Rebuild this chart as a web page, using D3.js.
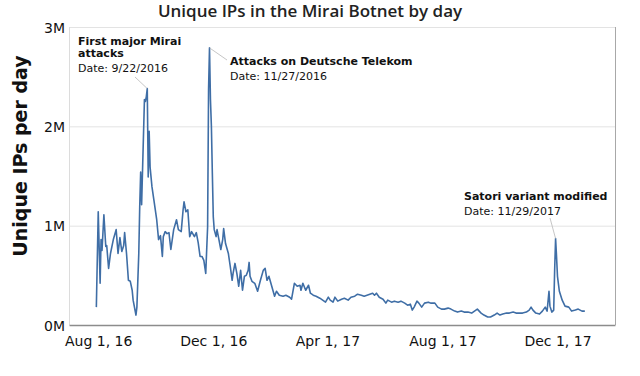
<!DOCTYPE html>
<html>
<head>
<meta charset="utf-8">
<script src="https://cdn.jsdelivr.net/npm/d3@7"></script>
<style>
  body { margin: 0; background: #fff; }
  .tick text { font-family: "DejaVu Sans", sans-serif; font-size: 14px; fill: #111; }
  .note { font-family: "DejaVu Sans", sans-serif; font-size: 11px; fill: #111; }
  .note .b { font-weight: bold; }
</style>
</head>
<body>
<script>
// Daily unique IPs (millions)
var days = [
  "2016-07-30","2016-08-01","2016-08-03","2016-08-04","2016-08-05","2016-08-07","2016-08-09","2016-08-10",
  "2016-08-12","2016-08-14","2016-08-17","2016-08-20","2016-08-22","2016-08-24","2016-08-26","2016-08-28",
  "2016-08-29","2016-08-31","2016-09-02","2016-09-04","2016-09-06","2016-09-07","2016-09-10","2016-09-11",
  "2016-09-13","2016-09-14","2016-09-15","2016-09-16","2016-09-19","2016-09-20","2016-09-21","2016-09-22",
  "2016-09-23","2016-09-24","2016-09-25","2016-09-27","2016-09-29","2016-10-02","2016-10-04","2016-10-06",
  "2016-10-08","2016-10-09","2016-10-11","2016-10-13","2016-10-15","2016-10-17","2016-10-20","2016-10-23",
  "2016-10-25","2016-10-28","2016-10-30","2016-10-31","2016-11-02","2016-11-04","2016-11-06","2016-11-08",
  "2016-11-11","2016-11-13","2016-11-15","2016-11-17","2016-11-19","2016-11-21","2016-11-23","2016-11-25",
  "2016-11-26","2016-11-27","2016-11-28","2016-11-29","2016-11-30","2016-12-01","2016-12-02","2016-12-04",
  "2016-12-05","2016-12-07","2016-12-09","2016-12-11","2016-12-12","2016-12-14","2016-12-17","2016-12-19",
  "2016-12-21","2016-12-22","2016-12-24","2016-12-26","2016-12-28","2016-12-30","2017-01-01","2017-01-03",
  "2017-01-05","2017-01-07","2017-01-08","2017-01-09","2017-01-11","2017-01-14","2017-01-17","2017-01-20",
  "2017-01-23","2017-01-25","2017-01-27","2017-01-29","2017-02-01","2017-02-04","2017-02-06","2017-02-09",
  "2017-02-13","2017-02-16","2017-02-20","2017-02-22","2017-02-25","2017-02-28","2017-03-03","2017-03-04",
  "2017-03-06","2017-03-09","2017-03-12","2017-03-14","2017-03-17","2017-03-20","2017-03-24","2017-03-27",
  "2017-03-30","2017-04-02","2017-04-04","2017-04-07","2017-04-09","2017-04-12","2017-04-16","2017-04-19",
  "2017-04-23","2017-04-26","2017-04-30","2017-05-03","2017-05-07","2017-05-10","2017-05-16","2017-05-19",
  "2017-05-21","2017-05-23","2017-05-26","2017-05-30","2017-06-02","2017-06-04","2017-06-08","2017-06-11",
  "2017-06-15","2017-06-18","2017-06-22","2017-06-25","2017-06-28","2017-06-30","2017-07-02","2017-07-05",
  "2017-07-07","2017-07-10","2017-07-13","2017-07-17","2017-07-20","2017-07-24","2017-07-27","2017-07-31",
  "2017-08-03","2017-08-07","2017-08-10","2017-08-14","2017-08-17","2017-08-21","2017-08-24","2017-08-28",
  "2017-09-01","2017-09-04","2017-09-07","2017-09-11","2017-09-14","2017-09-18","2017-09-21","2017-09-25",
  "2017-09-28","2017-10-01","2017-10-04","2017-10-08","2017-10-11","2017-10-15","2017-10-18","2017-10-22",
  "2017-10-25","2017-10-29","2017-11-01","2017-11-03","2017-11-05","2017-11-08","2017-11-12","2017-11-15",
  "2017-11-18","2017-11-20","2017-11-22","2017-11-23","2017-11-25","2017-11-27","2017-11-28","2017-11-29",
  "2017-11-30","2017-12-01","2017-12-03","2017-12-06","2017-12-09","2017-12-13","2017-12-16","2017-12-20",
  "2017-12-23","2017-12-27","2017-12-30"
];
var ips = [
  0.18,1.14,0.42,0.86,0.75,1.11,0.79,0.80,
  0.57,0.72,0.86,0.96,0.72,0.88,0.74,0.80,
  0.93,0.72,0.45,0.44,0.35,0.25,0.10,0.18,
  0.72,1.19,1.54,1.21,2.27,2.25,2.30,2.38,
  1.49,1.95,1.59,1.39,1.26,1.06,0.86,0.90,
  0.69,0.89,0.94,0.92,0.93,0.76,0.96,1.06,
  0.96,0.94,1.16,1.24,1.14,1.16,0.89,0.94,
  0.89,0.93,0.83,0.69,0.69,0.65,0.52,0.99,
  2.37,2.79,2.27,2.00,1.53,1.09,0.96,0.89,
  0.96,0.86,0.76,0.86,0.97,0.82,0.72,0.59,
  0.45,0.52,0.62,0.52,0.39,0.55,0.35,0.49,
  0.50,0.55,0.63,0.49,0.44,0.42,0.34,0.45,
  0.55,0.57,0.45,0.49,0.39,0.29,0.34,0.30,
  0.29,0.30,0.28,0.26,0.42,0.39,0.40,0.35,
  0.42,0.35,0.40,0.32,0.30,0.29,0.27,0.25,
  0.23,0.28,0.25,0.23,0.28,0.24,0.26,0.27,
  0.25,0.28,0.29,0.31,0.30,0.29,0.31,0.32,
  0.30,0.32,0.28,0.26,0.22,0.25,0.23,0.24,
  0.23,0.24,0.22,0.20,0.21,0.15,0.18,0.24,
  0.22,0.18,0.22,0.23,0.22,0.22,0.18,0.16,
  0.16,0.17,0.16,0.14,0.13,0.14,0.13,0.13,
  0.12,0.14,0.16,0.12,0.10,0.08,0.08,0.10,
  0.12,0.10,0.11,0.12,0.12,0.13,0.12,0.12,
  0.12,0.13,0.15,0.18,0.15,0.12,0.11,0.14,
  0.18,0.14,0.34,0.19,0.13,0.15,0.55,0.87,
  0.69,0.49,0.34,0.25,0.19,0.18,0.14,0.15,
  0.16,0.14,0.14
];

var xTicks = ["2016-08-01","2016-12-01","2017-04-01","2017-08-01","2017-12-01"];
var yTicks = [0, 1, 2, 3];

// annotations: event day, bold lines, date line
var noteDays = ["2016-09-22","2016-11-27","2017-11-29"];
var noteTitles = [["First major Mirai","attacks"],["Attacks on Deutsche Telekom"],["Satori variant modified"]];
var noteDates = ["Date: 9/22/2016","Date: 11/27/2016","Date: 11/29/2017"];

var parse = d3.timeParse("%Y-%m-%d");
var data = days.map(function(d, i) { return {date: parse(d), value: ips[i]}; });

var width = 640, height = 376;
var margin = {top: 27, right: 25, bottom: 51, left: 69};

var svg = d3.select("body").append("svg")
  .attr("width", width)
  .attr("height", height);

var x = d3.scaleTime()
  .domain([parse("2016-07-01"), parse("2018-01-31")])
  .range([margin.left, width - margin.right]);

var y = d3.scaleLinear()
  .domain([0, 3])
  .range([height - margin.bottom, margin.top]);

// gridlines
svg.append("g")
  .selectAll("line")
  .data(yTicks.slice(1))
  .enter().append("line")
  .attr("x1", margin.left).attr("x2", width - margin.right)
  .attr("y1", function(d) { return y(d) + 0.5; })
  .attr("y2", function(d) { return y(d) + 0.5; })
  .attr("stroke", "#e3e3e3");

// frame (left light, right + bottom darker)
svg.append("line")
  .attr("x1", margin.left + 0.5).attr("x2", margin.left + 0.5)
  .attr("y1", margin.top).attr("y2", height - margin.bottom)
  .attr("stroke", "#dcdcdc");
svg.append("line")
  .attr("x1", width - margin.right + 0.5).attr("x2", width - margin.right + 0.5)
  .attr("y1", margin.top).attr("y2", height - margin.bottom)
  .attr("stroke", "#a8a8a8");

var xAxis = d3.axisBottom(x)
  .tickValues(xTicks.map(parse))
  .tickFormat(d3.timeFormat("%b %-d, %y"))
  .tickSize(0).tickPadding(11);
var yAxis = d3.axisLeft(y)
  .tickValues(yTicks)
  .tickFormat(function(d) { return d + "M"; })
  .tickSize(0).tickPadding(4);

var gx = svg.append("g")
  .attr("transform", "translate(0," + (height - margin.bottom) + ")")
  .call(xAxis);
gx.select(".domain").attr("stroke", "#8c8c8c").attr("stroke-width", 1.5);

var gy = svg.append("g")
  .attr("transform", "translate(" + margin.left + ",0)")
  .call(yAxis);
gy.select(".domain").remove();
gy.selectAll(".tick text").attr("dy", "0.36em");

// the series
var line = d3.line()
  .x(function(d) { return x(d.date); })
  .y(function(d) { return y(d.value); });

svg.append("path")
  .datum(data)
  .attr("fill", "none")
  .attr("stroke", "#3f6ea6")
  .attr("stroke-width", 1.6)
  .attr("stroke-linejoin", "round")
  .attr("d", line);

// annotations
var notePos = [{tx: 78, ty: 45, lx: 135, ly: 77}, {tx: 230, ty: 65, lx: 227, ly: 60}, {tx: 464, ty: 200, lx: 550, ly: 218}];

noteDays.forEach(function(nd, i) {
  var p = notePos[i];
  var d = data.filter(function(e) { return +e.date === +parse(nd); })[0];
  svg.append("line")
    .attr("x1", p.lx).attr("y1", p.ly)
    .attr("x2", x(d.date)).attr("y2", y(d.value))
    .attr("stroke", "#b8b8b8").attr("stroke-width", 0.8);
  var t = svg.append("text").attr("class", "note").attr("x", p.tx).attr("y", p.ty);
  noteTitles[i].forEach(function(s, j) {
    t.append("tspan").attr("class", "b").attr("x", p.tx).attr("dy", j === 0 ? 0 : 12).text(s);
  });
  t.append("tspan").attr("x", p.tx).attr("dy", 14.5).text(noteDates[i]);
});

// title + y label
svg.append("text")
  .attr("x", 310).attr("y", 17)
  .attr("text-anchor", "middle")
  .style("font-family", "'Open Sans', sans-serif")
  .style("font-weight", 600)
  .style("font-size", "17px")
  .attr("fill", "#222")
  .text("Unique IPs in the Mirai Botnet by day");

svg.append("text")
  .attr("transform", "translate(27,156) rotate(-90)")
  .attr("text-anchor", "middle")
  .style("font-family", "DejaVu Sans, sans-serif")
  .style("font-weight", "bold")
  .style("font-size", "19px")
  .attr("fill", "#111")
  .text("Unique IPs per day");
</script>
</body>
</html>
